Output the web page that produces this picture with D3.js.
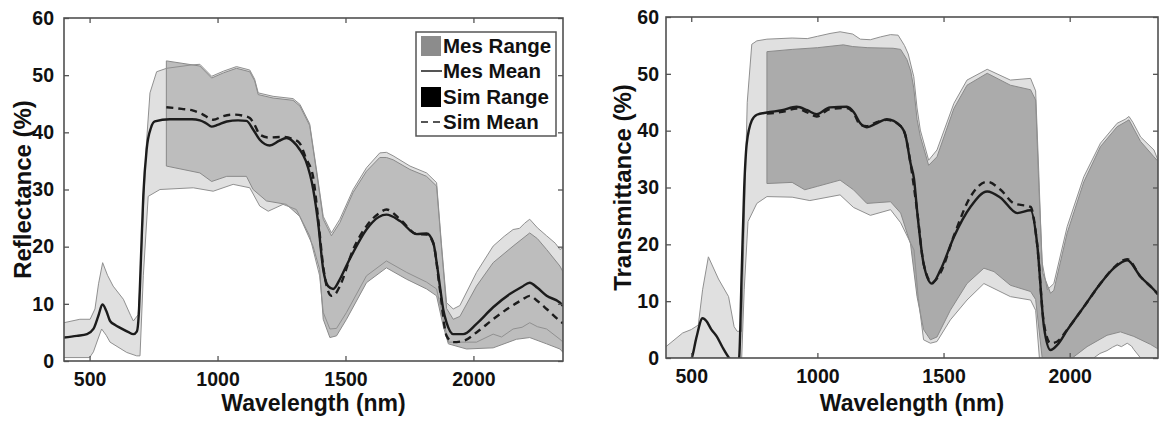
<!DOCTYPE html>
<html>
<head>
<meta charset="utf-8">
<script src="https://d3js.org/d3.v7.min.js"></script>
<style>
  body { margin: 0; background: #fff; }
  svg text { font-family: Arial, "Liberation Sans", sans-serif; font-weight: bold; fill: #111; }
</style>
</head>
<body>
<div id="chart"></div>
<script>
// ---- data (wavelength nm, percent) ----
var xTicks = [500, 1000, 1500, 2000];
var yTicks = [0, 10, 20, 30, 40, 50, 60];
var legendLabels = ["Mes Range", "Mes Mean", "Sim Range", "Sim Mean"];

// Reflectance panel
var reflMesMean = [[400,4.1],[450,4.4],[490,4.7],[515,5.6],[535,8],[550,9.9],[565,8.8],[580,7],[600,6.3],[620,5.8],[650,5.1],[671,4.7],[685,5.2],[692,8],[700,17],[710,29],[723,37],[740,40.8],[755,41.9],[814,42.3],[900,42.3],[931,42.1],[955,41.6],[977,41],[1000,41.3],[1036,41.9],[1080,42.1],[1113,42],[1139,40.5],[1165,38.7],[1204,37.7],[1240,38.5],[1269,39],[1295,38.4],[1321,37],[1345,35],[1374,30],[1393,24.2],[1413,16],[1432,13.1],[1452,12.6],[1478,14.3],[1505,16.8],[1530,19],[1582,23],[1630,25.2],[1660,25.6],[1713,24.5],[1778,22.2],[1817,22.3],[1843,20.7],[1857,17],[1869,13.1],[1882,9],[1895,6.7],[1921,4.7],[1960,4.7],[2012,6.5],[2077,9.4],[2142,11.7],[2190,13],[2220,13.7],[2250,12.8],[2286,11.4],[2338,10.2],[2350,9.6]];
var reflSimMean = [[800,44.4],[860,44.1],[905,43.8],[940,43.2],[983,42.2],[1020,42.8],[1061,43.1],[1100,42.9],[1126,42.5],[1145,41.3],[1165,39.6],[1200,39.1],[1256,39.2],[1290,38.9],[1321,38.1],[1345,35.5],[1373,32.3],[1393,25],[1413,16.5],[1430,12.5],[1445,11.4],[1460,11.7],[1478,13.1],[1530,19.5],[1582,23.6],[1630,25.8],[1660,26.5],[1713,24.8],[1778,22.2],[1817,22.1],[1843,20.6],[1869,12.5],[1895,4.4],[1921,3.3],[1960,3.5],[2012,5],[2077,7.3],[2142,9.4],[2190,10.7],[2220,11.4],[2250,10.5],[2286,9.1],[2338,7],[2350,6.6]];
var reflMesRangeHi = [[400,6.7],[462,7.3],[502,7.3],[521,9.1],[535,13.5],[551,17.2],[570,15],[592,13.1],[632,10.8],[660,8],[671,7],[690,8.1],[700,16],[710,26.5],[722,38],[736,46.9],[762,50.6],[801,51.2],[900,51.8],[931,51.9],[977,49.8],[1023,50.7],[1074,51.5],[1126,50.9],[1145,49.3],[1159,46.9],[1217,46.3],[1295,45.9],[1322,44.9],[1360,41.5],[1387,33.4],[1413,25.3],[1445,22.4],[1478,24.8],[1530,30],[1582,33.8],[1634,36.4],[1660,36.5],[1686,35.9],[1752,34.1],[1817,32.9],[1856,31.2],[1875,20.5],[1895,10.2],[1921,9.1],[1947,9.7],[2012,15.5],[2077,20.1],[2120,21.8],[2155,23],[2180,23.2],[2200,24.1],[2220,24.8],[2250,23.3],[2286,21.9],[2320,20.6],[2338,19.5],[2350,19.8]];
var reflMesRangeLo = [[400,0.6],[500,0.6],[515,1.6],[530,3.5],[547,5.6],[565,4.5],[580,3.3],[645,1.5],[684,0.9],[697,0.9],[710,14.9],[729,28.8],[775,30],[905,30.3],[983,29.7],[1061,30.9],[1126,30.3],[1165,27.1],[1198,26.2],[1256,27.4],[1308,26.5],[1360,21.9],[1399,14.9],[1413,8.5],[1439,5.6],[1465,5.7],[1504,8.5],[1582,14.9],[1660,17.5],[1739,15.5],[1817,13.8],[1856,12.6],[1882,7.3],[1902,3.3],[1921,3.3],[2012,3.3],[2077,4.7],[2110,4.2],[2155,5.6],[2190,5.9],[2220,6.7],[2250,6],[2286,5.6],[2338,3.8],[2350,3.3]];
var reflSimRangeHi = [[800,52.5],[931,51.6],[977,49.5],[1023,50.4],[1074,51.2],[1126,50.6],[1145,49],[1159,46.6],[1217,46],[1295,45.6],[1322,44.6],[1360,41.2],[1387,33],[1413,24.8],[1445,21.9],[1478,24.2],[1530,29.5],[1582,33.2],[1634,35.6],[1660,35.6],[1686,35.2],[1752,33.5],[1817,32.3],[1856,30.6],[1875,20],[1895,9.2],[1921,7.3],[1947,7.8],[2012,13.1],[2077,17.2],[2155,20.1],[2220,22.4],[2250,21.4],[2286,19.5],[2338,16.6],[2350,15.6]];
var reflSimRangeLo = [[800,34.1],[931,32.9],[977,31.4],[1036,32.3],[1113,32.3],[1139,30],[1191,28],[1269,27.4],[1321,25.3],[1373,20.1],[1399,16],[1413,7.3],[1439,4.1],[1465,4.4],[1504,7.3],[1582,13.7],[1660,16.3],[1739,14.3],[1817,12.6],[1856,11.4],[1882,6.1],[1902,3],[1973,2.1],[2077,2.3],[2168,3.8],[2220,4.1],[2286,3],[2338,2.1],[2350,1.5]];

// Transmittance panel
var transMesMean = [[480,-1],[502,0],[520,3.5],[545,7],[560,6.5],[580,5],[601,3.8],[625,1.8],[650,0],[670,-1],[685,-1],[690,0],[700,15],[710,30],[720,37.7],[740,41.8],[760,42.8],[800,43.2],[860,43.6],[918,44.2],[960,43.6],[997,42.9],[1050,44.1],[1117,44.2],[1145,43.2],[1170,41.3],[1196,40.6],[1235,41.3],[1275,42],[1330,40.8],[1350,39],[1369,34.3],[1383,31.5],[1395,26],[1421,16.6],[1454,13.1],[1488,15.5],[1541,21.3],[1607,26.6],[1673,29.3],[1726,28.2],[1792,25.5],[1845,26],[1871,20.1],[1898,5.5],[1924,1.4],[1951,2.3],[1990,4.9],[2056,9],[2122,13.1],[2175,15.8],[2228,17.2],[2281,14.3],[2334,12],[2350,11.2]];
var transSimMean = [[800,43],[860,43.3],[918,43.9],[960,43.2],[997,42.5],[1050,43.8],[1117,44],[1145,43],[1170,41],[1196,40.8],[1235,41.5],[1275,41.9],[1330,40.8],[1350,39],[1369,34.3],[1395,26],[1421,16.6],[1454,13.3],[1488,15],[1541,21.5],[1607,28.4],[1673,31],[1726,29.6],[1779,27.2],[1845,26.6],[1871,20],[1898,6],[1924,2.6],[1951,2.9],[1990,5],[2056,9],[2122,13.1],[2175,15.9],[2228,17.4],[2281,14.3],[2334,12],[2350,11.2]];
var transMesRangeHi = [[400,2],[466,4.4],[500,5],[528,5.8],[545,12],[568,17.8],[608,13.9],[648,10.8],[670,5.5],[682,4.7],[700,4.7],[708,20],[722,45],[740,55.2],[760,55.8],[800,56.1],[900,56.3],[960,56.2],[1000,56.6],[1050,57.1],[1090,57.4],[1140,57],[1170,56.1],[1210,56],[1250,56.5],[1290,56.9],[1320,56.8],[1345,55],[1360,53.5],[1382,49.5],[1395,44],[1408,40.1],[1441,34.8],[1474,36.6],[1541,44.8],[1593,48.9],[1673,50.8],[1765,48.9],[1845,49.2],[1865,47],[1878,32],[1890,17],[1911,12],[1937,13.1],[1990,23.1],[2056,31.9],[2122,37.8],[2188,41.3],[2220,42],[2235,42.5],[2250,41.5],[2281,38.9],[2334,36.6],[2350,34.8]];
var transMesRangeLo = [[400,0],[700,0],[710,12],[725,24],[760,27.2],[800,28.4],[900,28.3],[970,27.7],[1090,28.7],[1143,26.5],[1210,25.1],[1290,26.1],[1330,23.8],[1383,19],[1400,10.5],[1421,3.2],[1448,2.6],[1474,2.9],[1527,6.7],[1593,10.2],[1660,13.1],[1765,10.8],[1845,10.2],[1865,8.4],[1880,0],[2095,0],[2120,0.8],[2148,1.3],[2170,1.9],[2188,2.3],[2205,2],[2228,2.6],[2245,2.1],[2254,1.5],[2281,0],[2350,0]];
var transSimRangeHi = [[800,53.9],[900,54.3],[1000,54.6],[1103,55.1],[1140,54.8],[1200,54.6],[1300,54.5],[1330,54.3],[1355,52.5],[1370,50.5],[1382,47.5],[1395,42],[1408,39],[1441,33.9],[1474,35.4],[1541,43.9],[1593,48],[1673,50.1],[1765,48],[1845,47.2],[1865,45.4],[1878,30],[1893,15],[1924,11.4],[1937,11.9],[1990,22],[2056,31],[2122,37.2],[2188,40.7],[2235,41.9],[2281,38.1],[2334,35.4],[2350,34.6]];
var transSimRangeLo = [[800,30.7],[900,30.9],[950,29.6],[1000,30.2],[1090,31.3],[1143,29.6],[1196,27.2],[1290,27.5],[1330,25.5],[1369,20.1],[1395,10.8],[1421,5],[1448,3.2],[1474,3.7],[1527,8.4],[1593,13.1],[1660,15.8],[1700,15.2],[1765,12.8],[1845,11.7],[1865,10.3],[1891,0],[2010,0],[2069,2],[2148,4],[2201,4.6],[2254,3.8],[2320,2.4],[2350,1.6]];

var svg = d3.select("#chart").append("svg")
    .attr("width", 1161)
    .attr("height", 421);

var panels = [
    { id: "refl", left: 64, right: 563, top: 18, bottom: 361, title: "Reflectance (%)",
      titleX: 23, labelPad: 10, midColor: "#bdbdbd",
      mesHi: reflMesRangeHi, mesLo: reflMesRangeLo, simHi: reflSimRangeHi, simLo: reflSimRangeLo,
      mesMean: reflMesMean, simMean: reflSimMean, legend: true },
    { id: "trans", left: 666, right: 1158, top: 17, bottom: 358, title: "Transmittance (%)",
      titleX: 623, labelPad: 7, midColor: "#ababab",
      mesHi: transMesRangeHi, mesLo: transMesRangeLo, simHi: transSimRangeHi, simLo: transSimRangeLo,
      mesMean: transMesMean, simMean: transSimMean, legend: false }
];

panels.forEach(function (p) {
    var x = d3.scaleLinear().domain([400, 2350]).range([p.left, p.right]);
    var y = d3.scaleLinear().domain([0, 60]).range([p.bottom, p.top]);

    svg.append("clipPath").attr("id", "clip-" + p.id)
        .append("rect")
        .attr("x", p.left).attr("y", p.top)
        .attr("width", p.right - p.left).attr("height", p.bottom - p.top);

    var g = svg.append("g").attr("clip-path", "url(#clip-" + p.id + ")");

    var poly = d3.line().x(function (d) { return x(d[0]); }).y(function (d) { return y(d[1]); });
    var smooth = d3.line().curve(d3.curveMonotoneX)
        .x(function (d) { return x(d[0]); }).y(function (d) { return y(d[1]); });

    // measured range (light) then simulated range (darker) on top
    g.append("path")
        .attr("d", poly(p.mesHi.concat(p.mesLo.slice().reverse())) + "Z")
        .attr("fill", "#e0e0e0")
        .attr("stroke", "none");
    g.append("path")
        .attr("d", poly(p.simHi.concat(p.simLo.slice().reverse())) + "Z")
        .attr("fill", p.midColor)
        .attr("stroke", "#8a8a8a")
        .attr("stroke-width", 1);
    [p.mesHi, p.mesLo].forEach(function (s) {
        g.append("path")
            .attr("d", poly(s))
            .attr("fill", "none")
            .attr("stroke", "#909090")
            .attr("stroke-width", 1);
    });

    g.append("path")
        .attr("d", smooth(p.mesMean))
        .attr("fill", "none")
        .attr("stroke", "#1c1c1c")
        .attr("stroke-width", 2.4);
    g.append("path")
        .attr("d", smooth(p.simMean))
        .attr("fill", "none")
        .attr("stroke", "#1c1c1c")
        .attr("stroke-width", 2.4)
        .attr("stroke-dasharray", "7,5");

    // axes, ticks pointing inward like the original
    var ax = svg.append("g").attr("class", "axes");
    ax.append("g").attr("transform", "translate(0," + p.bottom + ")")
        .call(d3.axisBottom(x).tickValues(xTicks).tickSize(-5).tickPadding(11).tickFormat(d3.format("d")));
    ax.append("g").attr("transform", "translate(0," + p.top + ")")
        .call(d3.axisTop(x).tickValues(xTicks).tickSize(-5).tickFormat(""));
    ax.append("g").attr("transform", "translate(" + p.left + ",0)")
        .call(d3.axisLeft(y).tickValues(yTicks).tickSize(-5).tickPadding(p.labelPad));
    ax.append("g").attr("transform", "translate(" + p.right + ",0)")
        .call(d3.axisRight(y).tickValues(yTicks).tickSize(-5).tickFormat(""));
    ax.selectAll(".domain").remove();
    ax.selectAll(".tick line").attr("stroke", "#555").attr("stroke-width", 1.3);
    ax.selectAll(".tick text")
        .style("font-size", "19.5px")
        .style("font-weight", "bold")
        .attr("fill", "#111");

    svg.append("rect")
        .attr("x", p.left).attr("y", p.top)
        .attr("width", p.right - p.left).attr("height", p.bottom - p.top)
        .attr("fill", "none")
        .attr("stroke", "#505050")
        .attr("stroke-width", 1.6);

    svg.append("text")
        .attr("x", (p.left + p.right) / 2)
        .attr("y", 411)
        .attr("text-anchor", "middle")
        .style("font-size", "23px")
        .text("Wavelength (nm)");

    svg.append("text")
        .attr("transform", "translate(" + p.titleX + "," + ((p.top + p.bottom) / 2) + ") rotate(-90)")
        .attr("text-anchor", "middle")
        .attr("dy", "0.35em")
        .style("font-size", "24px")
        .text(p.title);

    if (p.legend) {
        var lg = svg.append("g");
        lg.append("rect")
            .attr("x", 416).attr("y", 32).attr("width", 140).attr("height", 104)
            .attr("fill", "#fff").attr("stroke", "#555").attr("stroke-width", 1.5);
        var rowY = [46, 71, 97, 122];
        legendLabels.forEach(function (lab, i) {
            var cy = rowY[i];
            if (i === 0 || i === 2) {
                lg.append("rect")
                    .attr("x", 421).attr("y", cy - 10).attr("width", 20).attr("height", 20)
                    .attr("fill", i === 0 ? "#8c8c8c" : "#000");
            } else {
                lg.append("line")
                    .attr("x1", 421).attr("x2", 442).attr("y1", cy).attr("y2", cy)
                    .attr("stroke", "#555").attr("stroke-width", 2)
                    .attr("stroke-dasharray", i === 3 ? "7,5" : null);
            }
            lg.append("text")
                .attr("x", 443).attr("y", cy)
                .attr("dy", "0.35em")
                .style("font-size", "20.5px")
                .text(lab);
        });
    }
});
</script>
</body>
</html>
